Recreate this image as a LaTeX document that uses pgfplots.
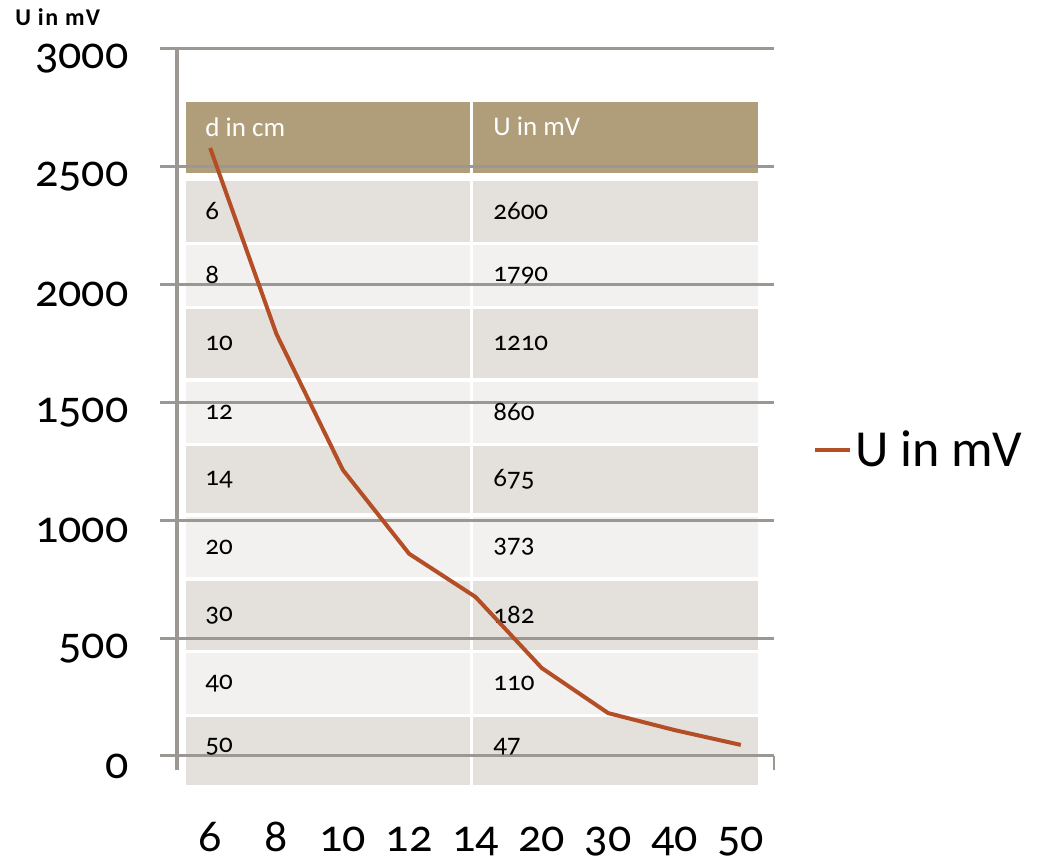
\documentclass[border=0pt]{standalone}
\usepackage{pgfplots}
\pgfplotsset{compat=1.18}
\usepackage{fontspec}
\setmainfont{Carlito}[Numbers=OldStyle]
\definecolor{hdr}{RGB}{176,157,122}
\definecolor{rowd}{RGB}{228,225,220}
\definecolor{rowl}{RGB}{242,241,239}
\definecolor{gridc}{RGB}{155,151,147}
\definecolor{curvec}{RGB}{180,78,38}
\newcommand{\trow}[3]{%
  \fill[#3] (axis cs:-0.364,#2) rectangle (axis cs:3.917,#1);
  \fill[#3] (axis cs:3.962,#2) rectangle (axis cs:8.259,#1);}
\newcommand{\gline}[1]{\draw[gridc, line width=1.5pt] (axis cs:-0.756,#1) -- (axis cs:8.5,#1);}

\begin{document}
\begin{tikzpicture}
\path[use as bounding box] (0,0) rectangle (524pt,430pt);
\begin{axis}[
  at={(88.5pt,52pt)}, anchor=south west,
  scale only axis, width=298.5pt, height=353.5pt,
  xmin=-0.5, xmax=8.5, ymin=0, ymax=3000,
  clip=false,
  axis line style={draw=none},
  tick align=outside,
  xtick pos=left, ytick pos=left,
  xtick={0,...,8},
  xticklabels={6,8,10,12,14,20,30,40,50},
  minor xtick={-0.5,0.5,...,8.5},
  major x tick style={draw=none},
  minor x tick style={gridc, line width=1.2pt},
  minor tick length=7pt,
  major tick length=8.5pt,
  ytick={0,500,...,3000},
  major y tick style={draw=none},
  /pgf/number format/assume math mode=true,
  /pgf/number format/1000 sep={},
  yticklabel style={font=\fontsize{23}{23}\selectfont, anchor=east, inner sep=0pt, xshift=-15.5pt, yshift=-5pt},
  xticklabel style={font=\fontsize{23}{23}\selectfont, anchor=base, yshift=-39pt},
  legend style={at={(1.065,0.433)}, anchor=west, draw=none, fill=none,
    font=\fontsize{26}{26}\selectfont, inner sep=0pt, nodes={inner sep=1.5pt}},
  legend cell align=left,
  legend image code/.code={\draw[#1, line width=2pt] (0pt,0pt) -- (17.5pt,0pt);},
]
  \trow{2776}{2475}{hdr}
  \trow{2441}{2182}{rowd}
  \trow{2169}{1910}{rowl}
  \trow{1897}{1604}{rowd}
  \trow{1587}{1329}{rowl}
  \trow{1316}{1031}{rowd}
  \trow{1014}{760}{rowl}
  \trow{743}{450}{rowd}
  \trow{437}{178}{rowl}
  \trow{166}{-123}{rowd}
  \gline{0}\gline{500}\gline{1000}\gline{1500}\gline{2000}\gline{2500}\gline{3000}
\draw[gridc, line width=1.8pt] (axis cs:-0.5,-60) -- (axis cs:-0.5,3000);
\begin{scope}[every node/.style={anchor=west, font=\fontsize{13.5}{13.5}\selectfont, inner sep=0pt}]
  \node[white] at (axis cs:-0.078,2670) {d in cm};
  \node[white] at (axis cs:4.264,2670) {U in mV};
  \node at (axis cs:-0.078,2312) {6};    \node at (axis cs:4.264,2312) {2600};
  \node at (axis cs:-0.078,2040) {8};    \node at (axis cs:4.264,2040) {1790};
  \node at (axis cs:-0.078,1750) {10};   \node at (axis cs:4.264,1750) {1210};
  \node at (axis cs:-0.078,1458) {12};   \node at (axis cs:4.264,1458) {860};
  \node at (axis cs:-0.078,1173) {14};   \node at (axis cs:4.264,1173) {675};
  \node at (axis cs:-0.078,887) {20};    \node at (axis cs:4.264,887) {373};
  \node at (axis cs:-0.078,597) {30};    \node at (axis cs:4.264,597) {182};
  \node at (axis cs:-0.078,307) {40};    \node at (axis cs:4.264,307) {110};
  \node at (axis cs:-0.078,40) {50};     \node at (axis cs:4.264,40) {47};
\end{scope}
\addplot[curvec, line width=2pt] coordinates {
  (0,2580) (1,1790) (2,1214) (3,858) (4,675) (5,373) (6,182) (7,110) (8,47)};
\addlegendentry{U in mV}
\end{axis}
\node[anchor=west, font=\bfseries\fontsize{12}{12}\selectfont\addfontfeature{LetterSpace=6}, inner sep=0pt] at (7.5pt,421.5pt) {U in mV};
\end{tikzpicture}
\end{document}
